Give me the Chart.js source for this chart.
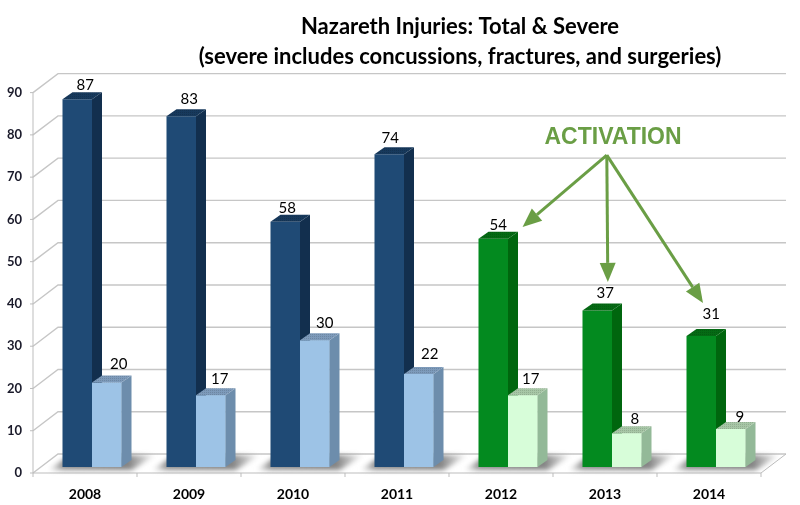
<!DOCTYPE html>
<html><head><meta charset="utf-8">
<style>html,body{margin:0;padding:0;background:#fff}#w{width:800px;height:505px}</style>
<script src="https://cdn.jsdelivr.net/npm/chart.js@4"></script></head>
<body><div id="w"><canvas id="c" width="800" height="505"></canvas></div>
<script>
const categories = ['2008','2009','2010','2011','2012','2013','2014'];
const totalInjuries = [87,83,58,74,54,37,31];
const severeInjuries = [20,17,30,22,17,8,9];
const yTicks = [0,10,20,30,40,50,60,70,80,90];
const titleLines = ['Nazareth Injuries: Total & Severe','(severe includes concussions, fractures, and surgeries)'];
const calloutLabel = 'ACTIVATION';
// Callout in data space: [category position, value]
const calloutOrigin = [4.95,73.8];
const calloutTargets = [[4.14,56.8],[4.96,43.8],[5.875,38.8]];
const calloutLabelAt = [5.01,78];

// Palettes: [face, side, top]; activation years (from 2012) are green
const isActivation = categories.map(c => +c >= 2012);
const totalPal = [['#1f4a75','#122f4e','#17395c'],['#038a1f','#00660e','#056a14']];
const severePal = [['#9dc3e6','#6d8dac','#7d9aba'],['#d7fdd9','#93b998','#a7c6a6']];
const DEPTH_X = 10, DEPTH_Y = 7;          // bar extrusion
const WALL_X = 18, WALL_Y = 13;           // bar plane to back wall
const FRONT_X = 7, FRONT_Y = 6;           // bar plane to front edge
// hand placement of the value labels relative to the top of each bar
const labelNudge = [
  [[8,-14],[8,-17],[2,-14],[1,-16],[5,-14],[8,-17],[10,-22]],
  [[12,-18],[9,-16],[10,-17],[11,-20],[8,-16],[8,-14],[9,-12]]
];

function texture(color){
  const p=document.createElement('canvas');p.width=p.height=2;
  const g=p.getContext('2d');g.fillStyle=color;g.fillRect(0,0,2,2);
  g.fillStyle='rgba(0,0,0,.12)';g.fillRect(0,0,1,1);
  return g.createPattern(p,'repeat');
}
function extrude(ctx,meta,pal){
  meta.data.forEach((b,i)=>{
    const p=pal[isActivation[i]?1:0], w=b.width/2, l=b.x-w, r=b.x+w, t=b.y, bt=b.base;
    ctx.fillStyle=p[1];
    ctx.beginPath();ctx.moveTo(r,t);ctx.lineTo(r+DEPTH_X,t-DEPTH_Y);ctx.lineTo(r+DEPTH_X,bt-DEPTH_Y);ctx.lineTo(r,bt);ctx.closePath();ctx.fill();
    ctx.fillStyle=texture(p[2]);
    ctx.beginPath();ctx.moveTo(l,t);ctx.lineTo(l+DEPTH_X,t-DEPTH_Y);ctx.lineTo(r+DEPTH_X,t-DEPTH_Y);ctx.lineTo(r,t);ctx.closePath();ctx.fill();
  });
}

const scenery = {
  id:'scenery',
  afterLayout(chart){ chart.titleBlock.left = 120; chart.titleBlock.right = 800; },
  beforeDatasetsDraw(chart){
    const {ctx,scales:{x,y}} = chart, y0 = y.getPixelForValue(0);
    const leftX = x.left - FRONT_X, rightX = x.right - FRONT_X;
    ctx.save();
    // back wall gridlines and left wall obliques
    ctx.strokeStyle='#c6c6c6';ctx.lineWidth=1.4;
    yTicks.forEach(v=>{
      const py=y.getPixelForValue(v);
      ctx.beginPath();
      ctx.moveTo(leftX,py+FRONT_Y);
      ctx.lineTo(x.left+WALL_X,py-WALL_Y);
      ctx.lineTo(rightX+WALL_X+FRONT_X,py-WALL_Y);
      ctx.stroke();
    });
    // front axis and floor
    ctx.strokeStyle='#bdbdbd';ctx.lineWidth=1;
    const fy=y0+FRONT_Y;
    ctx.beginPath();
    ctx.moveTo(leftX,y.getPixelForValue(90)+FRONT_Y);ctx.lineTo(leftX,fy);
    ctx.lineTo(rightX,fy);ctx.lineTo(rightX+WALL_X+FRONT_X,y0-WALL_Y);
    yTicks.forEach(v=>{const py=y.getPixelForValue(v)+FRONT_Y;ctx.moveTo(leftX-3,py);ctx.lineTo(leftX,py);});
    categories.forEach((c,i)=>{const px=leftX+(rightX-leftX)*i/categories.length;ctx.moveTo(px,fy);ctx.lineTo(px,fy+4);});
    ctx.moveTo(rightX,fy);ctx.lineTo(rightX,fy+4);
    ctx.stroke();
    // floor shadows
    ctx.filter='blur(2.5px)';
    categories.forEach((c,i)=>{
      const cx=x.getPixelForValue(i), l=cx-30, r=cx+30;
      const g=ctx.createLinearGradient(l-14,0,r+34,0);
      g.addColorStop(0,'rgba(130,130,130,0)');g.addColorStop(.14,'rgba(130,130,130,.9)');
      g.addColorStop(.74,'rgba(130,130,130,1)');g.addColorStop(1,'rgba(130,130,130,0)');
      ctx.fillStyle=g;
      ctx.beginPath();ctx.moveTo(l-14,y0+3);ctx.lineTo(r+10,y0+3);ctx.lineTo(r+34,y0-12);ctx.lineTo(l+8,y0-12);ctx.closePath();ctx.fill();
    });
    ctx.restore();
  },
  afterDatasetsDraw(chart){
    const {ctx} = chart;
    ctx.save();
    extrude(ctx,chart.getDatasetMeta(0),totalPal);
    // the severe bars stand in front of the total bars' sides
    chart.getDatasetMeta(1).data.forEach(b=>b.draw(ctx));
    extrude(ctx,chart.getDatasetMeta(1),severePal);
    ctx.restore();
  },
  afterDraw(chart){
    const {ctx,scales:{x,y}} = chart;
    const P=a=>[x.getPixelForValue(a[0]),y.getPixelForValue(a[1])];
    ctx.save();
    // value labels
    ctx.fillStyle='#000';ctx.font='15px Lato';ctx.textAlign='center';ctx.textBaseline='middle';
    [0,1].forEach(d=>chart.getDatasetMeta(d).data.forEach((b,i)=>{
      const n=labelNudge[d][i], v=chart.data.datasets[d].data[i];
      ctx.fillText(String(v),b.x+n[0],b.y+n[1]);
    }));
    // callout
    const green='#6a9e45';
    const [lx,ly]=P(calloutLabelAt);
    ctx.fillStyle=green;ctx.font='bold 23px "Liberation Sans"';ctx.fillText(calloutLabel,lx,ly);
    const [ox,oy]=P(calloutOrigin);
    ctx.strokeStyle=green;ctx.lineWidth=3;
    calloutTargets.forEach(t=>{
      const [tx,ty]=P(t),a=Math.atan2(ty-oy,tx-ox),L=19,W=8;
      const bx=tx-L*Math.cos(a),by=ty-L*Math.sin(a);
      ctx.beginPath();ctx.moveTo(ox,oy);ctx.lineTo(bx,by);ctx.stroke();
      ctx.beginPath();ctx.moveTo(tx,ty);
      ctx.lineTo(bx+W*Math.sin(a),by-W*Math.cos(a));
      ctx.lineTo(bx-W*Math.sin(a),by+W*Math.cos(a));ctx.closePath();ctx.fill();
    });
    ctx.restore();
  }
};

new Chart(document.getElementById('c'),{
  type:'bar',
  plugins:[scenery],
  data:{labels:categories,datasets:[
    {label:'Total',data:totalInjuries,backgroundColor:isActivation.map(a=>totalPal[a?1:0][0])},
    {label:'Severe',data:severeInjuries,backgroundColor:isActivation.map(a=>severePal[a?1:0][0])}
  ]},
  options:{
    responsive:false,animation:false,
    layout:{padding:{left:0,right:32,top:0,bottom:0}},
    datasets:{bar:{categoryPercentage:59/104,barPercentage:1,borderWidth:0}},
    plugins:{
      legend:{display:false},tooltip:{enabled:false},
      title:{display:true,text:titleLines,color:'#000',
        font:{family:'Lato',size:22,weight:'bold',lineHeight:1.364},
        padding:{top:12,bottom:14.6}}
    },
    scales:{
      x:{grid:{display:false},border:{display:false},afterFit:s=>{s.height=38;},
        ticks:{labelOffset:-FRONT_X,padding:11,color:'#000',font:{family:'Lato',size:14,weight:'bold'},maxRotation:0}},
      y:{min:0,max:90,grid:{display:false},border:{display:false},afterFit:s=>{s.width=40;},
        afterBuildTicks:s=>{s.ticks=yTicks.map(v=>({value:v}));},
        ticks:{labelOffset:FRONT_Y,padding:10,color:'#1a1a2a',font:{family:'Lato',size:13,weight:'bold'}}}
    }
  }
});
</script></body></html>
